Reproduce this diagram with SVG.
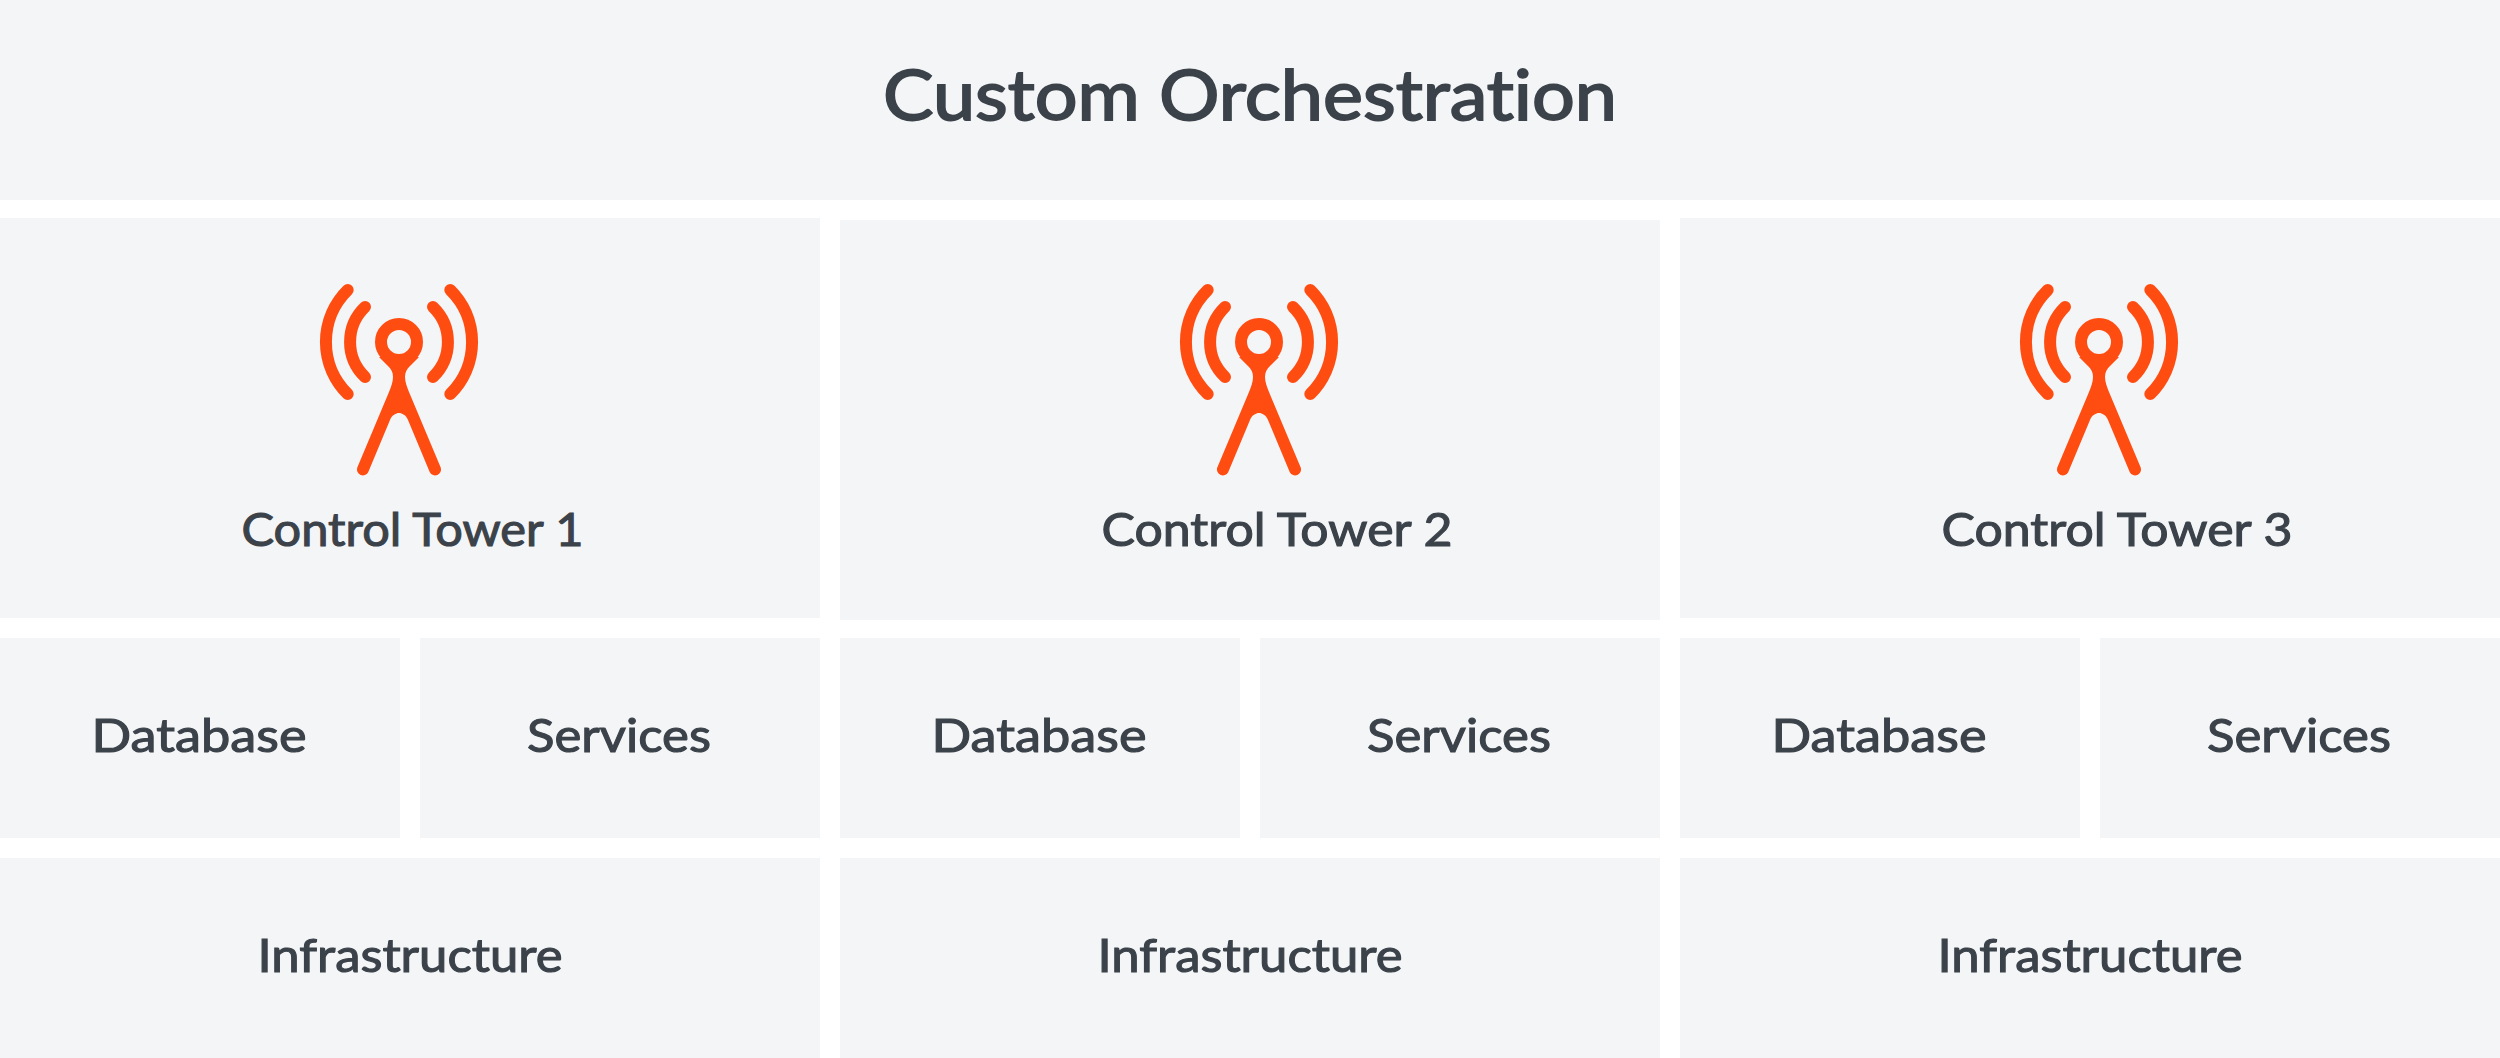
<svg xmlns="http://www.w3.org/2000/svg" width="2500" height="1058" viewBox="0 0 2500 1058">
<style>
.box{fill:#f4f5f7}
text{font-family:"Lato","Liberation Sans",sans-serif;font-weight:400;fill:#3b424a;stroke:#3b424a;stroke-width:1.1px;text-anchor:middle;font-size:47px;font-variant-ligatures:none}
.title{font-size:69px;stroke-width:1.8px}
.arc{fill:none;stroke:#ff4d12;stroke-width:12;stroke-linecap:round}
</style>
<defs>
<g id="tower">
<circle class="arc" r="18" cx="0" cy="0"/>
<path d="M-20 15L-11 24C-8 27-6 30-6 35C-6 40-8 45-10 50L-41.800 125.700A6 6 0 0 0-30.800 130.300L-9 78C-7 73-3 71 0 71C3 71 7 73 9 78L30.800 130.300A6 6 0 0 0 41.800 125.700L10 50C8 45 6 40 6 35C6 30 8 27 11 24L20 15Z" fill="#ff4d12"/>
<path class="arc" d="M-51.300-52A73 73 0 0 0-51.300 52M51.300-52A73 73 0 0 1 51.300 52M-34-35A48.500 48.500 0 0 0-34 35M34-35A48.500 48.500 0 0 1 34 35"/>
</g>
</defs>
<rect width="2500" height="1058" fill="#fff"/>
<g id="custom-orchestration"><rect class="box" width="2500" height="200"/><text class="title" x="1250" y="120" textLength="734" lengthAdjust="spacingAndGlyphs">Custom Orchestration</text></g>
<g id="control-tower-1"><rect class="box" x="0" y="218" width="820" height="400"/><use href="#tower" x="399" y="342"/><text x="412.500" y="546" textLength="342" lengthAdjust="spacingAndGlyphs">Control Tower 1</text></g>
<g id="control-tower-2"><rect class="box" x="840" y="220" width="820" height="400"/><use href="#tower" x="1259" y="342"/><text x="1277" y="546" textLength="351" lengthAdjust="spacingAndGlyphs">Control Tower 2</text></g>
<g id="control-tower-3"><rect class="box" x="1680" y="218" width="820" height="400"/><use href="#tower" x="2099" y="342"/><text x="2117" y="546" textLength="351" lengthAdjust="spacingAndGlyphs">Control Tower 3</text></g>
<g id="database-1"><rect class="box" x="0" y="638" width="400" height="200"/><text x="199" y="752" textLength="215" lengthAdjust="spacingAndGlyphs">Database</text></g>
<g id="services-1"><rect class="box" x="420" y="638" width="400" height="200"/><text x="619" y="752" textLength="184" lengthAdjust="spacingAndGlyphs">Services</text></g>
<g id="database-2"><rect class="box" x="840" y="638" width="400" height="200"/><text x="1039" y="752" textLength="215" lengthAdjust="spacingAndGlyphs">Database</text></g>
<g id="services-2"><rect class="box" x="1260" y="638" width="400" height="200"/><text x="1459" y="752" textLength="184" lengthAdjust="spacingAndGlyphs">Services</text></g>
<g id="database-3"><rect class="box" x="1680" y="638" width="400" height="200"/><text x="1879" y="752" textLength="215" lengthAdjust="spacingAndGlyphs">Database</text></g>
<g id="services-3"><rect class="box" x="2100" y="638" width="400" height="200"/><text x="2299" y="752" textLength="184" lengthAdjust="spacingAndGlyphs">Services</text></g>
<g id="infrastructure-1"><rect class="box" x="0" y="858" width="820" height="200"/><text x="410" y="972" textLength="305" lengthAdjust="spacingAndGlyphs">Infrastructure</text></g>
<g id="infrastructure-2"><rect class="box" x="840" y="858" width="820" height="200"/><text x="1250" y="972" textLength="305" lengthAdjust="spacingAndGlyphs">Infrastructure</text></g>
<g id="infrastructure-3"><rect class="box" x="1680" y="858" width="820" height="200"/><text x="2090" y="972" textLength="305" lengthAdjust="spacingAndGlyphs">Infrastructure</text></g>
</svg>
